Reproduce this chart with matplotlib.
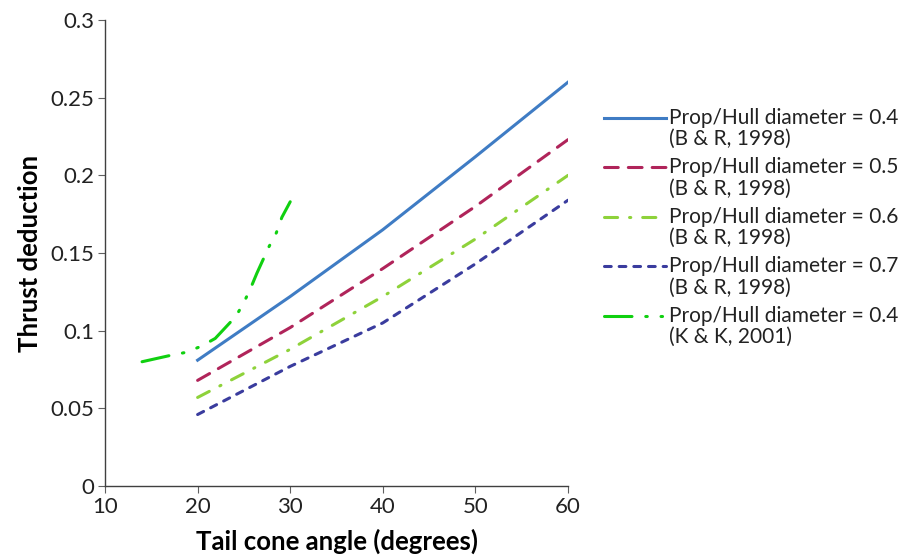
import matplotlib
matplotlib.use("Agg")
import matplotlib.pyplot as plt
from matplotlib.legend_handler import HandlerLine2D

plt.rcParams['font.family'] = ['Lato', 'DejaVu Sans']

# Data
angle_br = [20, 30, 40, 50, 60]
t_04 = [0.081, 0.122, 0.165, 0.212, 0.260]
t_05 = [0.068, 0.102, 0.140, 0.180, 0.223]
t_06 = [0.057, 0.088, 0.122, 0.159, 0.200]
t_07 = [0.046, 0.077, 0.105, 0.143, 0.184]

angle_kk = [14.0, 17.0, 18.7, 20.4, 21.9, 24.1, 24.9, 25.7, 26.4, 27.7, 28.5, 29.1, 30.0]
t_kk = [0.080, 0.084, 0.086, 0.090, 0.095, 0.109, 0.117, 0.127, 0.137, 0.154, 0.163, 0.173, 0.183]

labels = [
    "Prop/Hull diameter = 0.4\n(B & R, 1998)",
    "Prop/Hull diameter = 0.5\n(B & R, 1998)",
    "Prop/Hull diameter = 0.6\n(B & R, 1998)",
    "Prop/Hull diameter = 0.7\n(B & R, 1998)",
    "Prop/Hull diameter = 0.4\n(K & K, 2001)",
]
xticks = [10, 20, 30, 40, 50, 60]
yticks = [0, 0.05, 0.1, 0.15, 0.2, 0.25, 0.3]
yticklabels = ["0", "0.05", "0.1", "0.15", "0.2", "0.25", "0.3"]

fig = plt.figure(figsize=(9, 5.57), dpi=100)
ax = fig.add_axes([0.1167, 0.1275, 0.5144, 0.8365])

lw = 2.2
l1, = ax.plot(angle_br, t_04, color='#3F7CC4', lw=lw, linestyle='-', label=labels[0])
l2, = ax.plot(angle_br, t_05, color='#B0245A', lw=lw, linestyle=(0, (4.5, 3.3)),
              dash_capstyle='round', label=labels[1])
l3, = ax.plot(angle_br, t_06, color='#8ED23A', lw=lw, linestyle=(0, (4.3, 3.9, 0.4, 3.9)),
              dash_capstyle='round', label=labels[2])
l4, = ax.plot(angle_br, t_07, color='#3A3C9E', lw=lw, linestyle=(0, (2.2, 2.6)),
              dash_capstyle='round', label=labels[3])
l5, = ax.plot(angle_kk, t_kk, color='#10D010', lw=lw,
              linestyle=(0, (9.0, 4.5, 0.5, 4.5, 0.5, 4.5)),
              dash_capstyle='round', label=labels[4])

ax.set_xlim(10, 60)
ax.set_ylim(0, 0.3)
ax.set_xticks(xticks)
ax.set_yticks(yticks)
ax.set_yticklabels(yticklabels)
for s in ['top', 'right']:
    ax.spines[s].set_visible(False)
for s in ['left', 'bottom']:
    ax.spines[s].set_color('#404040')
    ax.spines[s].set_linewidth(1.0)
ax.tick_params(direction='out', length=5, width=0.8, color='#606060',
               labelsize=16, labelcolor='#222222', pad=3)
ax.set_xlabel("Tail cone angle (degrees)", fontsize=18.5, fontweight='bold', labelpad=8)
ax.set_ylabel("Thrust deduction", fontsize=18.5, fontweight='bold', labelpad=6)


class UpHandler(HandlerLine2D):
    def create_artists(self, legend, orig_handle, xdescent, ydescent, width,
                       height, fontsize, trans):
        arts = super().create_artists(legend, orig_handle, xdescent, ydescent,
                                      width, height, fontsize, trans)
        for a in arts:
            yd = a.get_ydata()
            a.set_ydata([y + 0.55 * fontsize for y in yd])
        return arts


leg = ax.legend(handles=[l1, l2, l3, l4, l5], loc='upper left',
                bbox_to_anchor=(1.059, 0.83), frameon=False, fontsize=15,
                handlelength=3.0, handletextpad=0.15, labelspacing=0.38,
                borderaxespad=0,
                handler_map={l: UpHandler() for l in [l1, l2, l3, l4, l5]})
for t in leg.get_texts():
    t.set_color('#222222')
    t.set_linespacing(1.1)

fig.savefig("out.png", dpi=100)
